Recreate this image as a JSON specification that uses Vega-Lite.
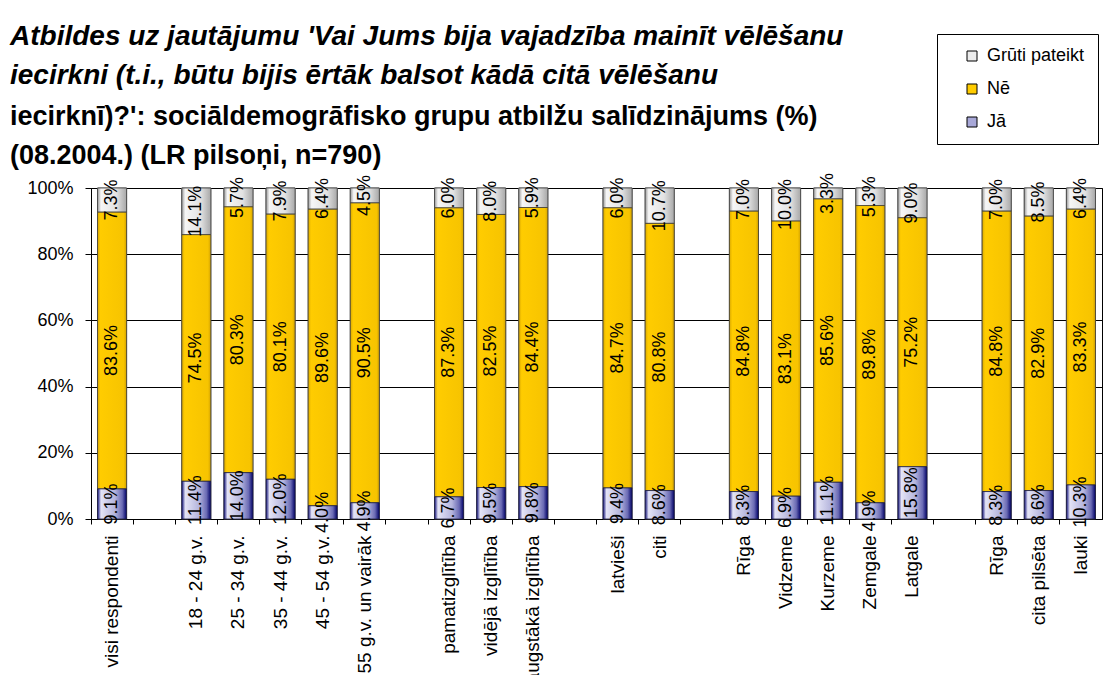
{
  "$schema": "https://vega.github.io/schema/vega-lite/v6.json",
  "width": 1011,
  "height": 331,
  "autosize": "none",
  "padding": {"left": 91, "top": 188, "right": 13, "bottom": 156},
  "background": "white",
  "title": {
    "text": ["Atbildes uz jautājumu 'Vai Jums bija vajadzība mainīt vēlēšanu", "iecirkni (t.i., būtu bijis ērtāk balsot kādā citā vēlēšanu"],
    "subtitle": ["iecirknī)?': sociāldemogrāfisko grupu atbilžu salīdzinājums (%)", "(08.2004.) (LR pilsoņi, n=790)"],
    "anchor": "start",
    "frame": "group",
    "dx": -81,
    "dy": 155,
    "offset": 20,
    "font": "Liberation Sans",
    "fontSize": 28,
    "fontWeight": "bold",
    "fontStyle": "italic",
    "color": "black",
    "lineHeight": 39,
    "subtitleFont": "Liberation Sans",
    "subtitleFontSize": 27,
    "subtitleFontWeight": "bold",
    "subtitleFontStyle": "normal",
    "subtitleColor": "black",
    "subtitleLineHeight": 39,
    "subtitlePadding": 14
  },
  "data": {
    "values": [
      {"grupa": "visi respondenti", "atbilde": "Jā", "vertiba": 9.1},
      {"grupa": "visi respondenti", "atbilde": "Nē", "vertiba": 83.6},
      {"grupa": "visi respondenti", "atbilde": "Grūti pateikt", "vertiba": 7.3},
      {"grupa": "18 - 24 g.v.", "atbilde": "Jā", "vertiba": 11.4},
      {"grupa": "18 - 24 g.v.", "atbilde": "Nē", "vertiba": 74.5},
      {"grupa": "18 - 24 g.v.", "atbilde": "Grūti pateikt", "vertiba": 14.1},
      {"grupa": "25 - 34 g.v.", "atbilde": "Jā", "vertiba": 14.0},
      {"grupa": "25 - 34 g.v.", "atbilde": "Nē", "vertiba": 80.3},
      {"grupa": "25 - 34 g.v.", "atbilde": "Grūti pateikt", "vertiba": 5.7},
      {"grupa": "35 - 44 g.v.", "atbilde": "Jā", "vertiba": 12.0},
      {"grupa": "35 - 44 g.v.", "atbilde": "Nē", "vertiba": 80.1},
      {"grupa": "35 - 44 g.v.", "atbilde": "Grūti pateikt", "vertiba": 7.9},
      {"grupa": "45 - 54 g.v.", "atbilde": "Jā", "vertiba": 4.0},
      {"grupa": "45 - 54 g.v.", "atbilde": "Nē", "vertiba": 89.6},
      {"grupa": "45 - 54 g.v.", "atbilde": "Grūti pateikt", "vertiba": 6.4},
      {"grupa": "55 g.v. un vairāk", "atbilde": "Jā", "vertiba": 4.9},
      {"grupa": "55 g.v. un vairāk", "atbilde": "Nē", "vertiba": 90.5},
      {"grupa": "55 g.v. un vairāk", "atbilde": "Grūti pateikt", "vertiba": 4.5},
      {"grupa": "pamatizglītība", "atbilde": "Jā", "vertiba": 6.7},
      {"grupa": "pamatizglītība", "atbilde": "Nē", "vertiba": 87.3},
      {"grupa": "pamatizglītība", "atbilde": "Grūti pateikt", "vertiba": 6.0},
      {"grupa": "vidējā izglītība", "atbilde": "Jā", "vertiba": 9.5},
      {"grupa": "vidējā izglītība", "atbilde": "Nē", "vertiba": 82.5},
      {"grupa": "vidējā izglītība", "atbilde": "Grūti pateikt", "vertiba": 8.0},
      {"grupa": "augstākā izglītība", "atbilde": "Jā", "vertiba": 9.8},
      {"grupa": "augstākā izglītība", "atbilde": "Nē", "vertiba": 84.4},
      {"grupa": "augstākā izglītība", "atbilde": "Grūti pateikt", "vertiba": 5.9},
      {"grupa": "latvieši", "atbilde": "Jā", "vertiba": 9.4},
      {"grupa": "latvieši", "atbilde": "Nē", "vertiba": 84.7},
      {"grupa": "latvieši", "atbilde": "Grūti pateikt", "vertiba": 6.0},
      {"grupa": "citi", "atbilde": "Jā", "vertiba": 8.6},
      {"grupa": "citi", "atbilde": "Nē", "vertiba": 80.8},
      {"grupa": "citi", "atbilde": "Grūti pateikt", "vertiba": 10.7},
      {"grupa": "Rīga", "atbilde": "Jā", "vertiba": 8.3},
      {"grupa": "Rīga", "atbilde": "Nē", "vertiba": 84.8},
      {"grupa": "Rīga", "atbilde": "Grūti pateikt", "vertiba": 7.0},
      {"grupa": "Vidzeme", "atbilde": "Jā", "vertiba": 6.9},
      {"grupa": "Vidzeme", "atbilde": "Nē", "vertiba": 83.1},
      {"grupa": "Vidzeme", "atbilde": "Grūti pateikt", "vertiba": 10.0},
      {"grupa": "Kurzeme", "atbilde": "Jā", "vertiba": 11.1},
      {"grupa": "Kurzeme", "atbilde": "Nē", "vertiba": 85.6},
      {"grupa": "Kurzeme", "atbilde": "Grūti pateikt", "vertiba": 3.3},
      {"grupa": "Zemgale", "atbilde": "Jā", "vertiba": 4.9},
      {"grupa": "Zemgale", "atbilde": "Nē", "vertiba": 89.8},
      {"grupa": "Zemgale", "atbilde": "Grūti pateikt", "vertiba": 5.3},
      {"grupa": "Latgale", "atbilde": "Jā", "vertiba": 15.8},
      {"grupa": "Latgale", "atbilde": "Nē", "vertiba": 75.2},
      {"grupa": "Latgale", "atbilde": "Grūti pateikt", "vertiba": 9.0},
      {"grupa": "Rīga#2", "atbilde": "Jā", "vertiba": 8.3},
      {"grupa": "Rīga#2", "atbilde": "Nē", "vertiba": 84.8},
      {"grupa": "Rīga#2", "atbilde": "Grūti pateikt", "vertiba": 7.0},
      {"grupa": "cita pilsēta", "atbilde": "Jā", "vertiba": 8.6},
      {"grupa": "cita pilsēta", "atbilde": "Nē", "vertiba": 82.9},
      {"grupa": "cita pilsēta", "atbilde": "Grūti pateikt", "vertiba": 8.5},
      {"grupa": "lauki", "atbilde": "Jā", "vertiba": 10.3},
      {"grupa": "lauki", "atbilde": "Nē", "vertiba": 83.3},
      {"grupa": "lauki", "atbilde": "Grūti pateikt", "vertiba": 6.4}
    ]
  },
  "transform": [
    {"calculate": "indexof(['Jā','Nē','Grūti pateikt'], datum.atbilde)", "as": "ord"},
    {"stack": "vertiba", "groupby": ["grupa"], "sort": [{"field": "ord", "order": "ascending"}], "as": ["y0", "y1"], "offset": "normalize"},
    {"calculate": "(datum.y0 + datum.y1) / 2", "as": "mid"},
    {"calculate": "format(datum.vertiba, '.1f') + '%'", "as": "lbl"}
  ],
  "layer": [
    {
      "mark": {"type": "bar", "width": {"band": 0.69}, "stroke": "#404040", "strokeWidth": 0.8},
      "encoding": {
        "x": {
          "field": "grupa", "type": "nominal", "sort": null,
          "scale": {
            "domain": ["visi respondenti", " ", "18 - 24 g.v.", "25 - 34 g.v.", "35 - 44 g.v.", "45 - 54 g.v.", "55 g.v. un vairāk", "  ", "pamatizglītība", "vidējā izglītība", "augstākā izglītība", "   ", "latvieši", "citi", "    ", "Rīga", "Vidzeme", "Kurzeme", "Zemgale", "Latgale", "     ", "Rīga#2", "cita pilsēta", "lauki"],
            "paddingInner": 0, "paddingOuter": 0
          },
          "axis": {
            "orient": "bottom", "title": null, "ticks": false, "tickSize": 0, "domain": true, "domainColor": "black",
            "labelAngle": -90, "labelFontSize": 19, "labelPadding": 16, "labelColor": "black", "labelLimit": 300,
            "labelExpr": "replace(datum.label, '#2', '')", "grid": false
          }
        },
        "y": {
          "field": "y0", "type": "quantitative", "scale": {"domain": [0, 1]},
          "axis": {"values": [0, 0.2, 0.4, 0.6, 0.8, 1], "format": ".0%", "title": null, "grid": true, "gridColor": "black", "gridOpacity": 1, "domainColor": "black", "tickColor": "black", "tickSize": 6, "labelFontSize": 18, "labelPadding": 12, "labelColor": "black"}
        },
        "y2": {"field": "y1"},
        "fill": {
          "field": "atbilde", "type": "nominal",
          "scale": {"domain": ["Grūti pateikt", "Nē", "Jā"], "range": ["#ececec", "#ffcc00", "#a8a8d8"]},
          "legend": {
            "title": null, "orient": "none", "legendX": 846, "legendY": -154,
            "padding": 13, "symbolOffset": 13, "strokeColor": "black", "fillColor": "white",
            "symbolType": "square", "symbolSize": 100, "symbolStrokeColor": "black", "symbolStrokeWidth": 1,
            "labelFontSize": 18, "labelOffset": 6, "rowPadding": 15, "labelColor": "black"
          }
        }
      }
    },
    {
      "transform": [{"filter": "datum.atbilde === 'Grūti pateikt'"}],
      "mark": {"type": "bar", "width": {"band": 0.69}, "stroke": "#404040", "strokeWidth": 0.8,
        "fill": {"gradient": "linear", "x1": 0, "y1": 0, "x2": 1, "y2": 0, "stops": [{"offset": 0, "color": "#9a9a9a"}, {"offset": 0.12, "color": "#f6f6f6"}, {"offset": 0.65, "color": "#e2e2e2"}, {"offset": 1, "color": "#a8a8a8"}]}},
      "encoding": {
        "x": {"field": "grupa", "type": "nominal", "sort": null, "axis": null},
        "y": {"field": "y0", "type": "quantitative",
          "axis": {"values": [0, 0.2, 0.4, 0.6, 0.8, 1], "format": ".0%", "title": null, "grid": true, "gridColor": "black", "gridOpacity": 1, "domainColor": "black", "tickColor": "black", "tickSize": 6, "labelFontSize": 18, "labelPadding": 12, "labelColor": "black"}},
        "y2": {"field": "y1"}
      }
    },
    {
      "transform": [{"filter": "datum.atbilde === 'Nē'"}],
      "mark": {"type": "bar", "width": {"band": 0.69}, "stroke": "#404040", "strokeWidth": 0.8,
        "fill": {"gradient": "linear", "x1": 0, "y1": 0, "x2": 1, "y2": 0, "stops": [{"offset": 0, "color": "#d9a800"}, {"offset": 0.1, "color": "#ffcc00"}, {"offset": 0.9, "color": "#f7c400"}, {"offset": 1, "color": "#d4a300"}]}},
      "encoding": {
        "x": {"field": "grupa", "type": "nominal", "sort": null, "axis": null},
        "y": {"field": "y0", "type": "quantitative",
          "axis": {"values": [0, 0.2, 0.4, 0.6, 0.8, 1], "format": ".0%", "title": null, "grid": true, "gridColor": "black", "gridOpacity": 1, "domainColor": "black", "tickColor": "black", "tickSize": 6, "labelFontSize": 18, "labelPadding": 12, "labelColor": "black"}},
        "y2": {"field": "y1"}
      }
    },
    {
      "transform": [{"filter": "datum.atbilde === 'Jā'"}],
      "mark": {"type": "bar", "width": {"band": 0.69}, "stroke": "#202040", "strokeWidth": 0.8,
        "fill": {"gradient": "linear", "x1": 0, "y1": 0, "x2": 1, "y2": 0, "stops": [{"offset": 0, "color": "#10107a"}, {"offset": 0.12, "color": "#e4e4f6"}, {"offset": 0.6, "color": "#b4b4dc"}, {"offset": 0.85, "color": "#6a6ab4"}, {"offset": 1, "color": "#000066"}]}},
      "encoding": {
        "x": {"field": "grupa", "type": "nominal", "sort": null, "axis": null},
        "y": {"field": "y0", "type": "quantitative",
          "axis": {"values": [0, 0.2, 0.4, 0.6, 0.8, 1], "format": ".0%", "title": null, "grid": true, "gridColor": "black", "gridOpacity": 1, "domainColor": "black", "tickColor": "black", "tickSize": 6, "labelFontSize": 18, "labelPadding": 12, "labelColor": "black"}},
        "y2": {"field": "y1"}
      }
    },
    {
      "mark": {"type": "text", "angle": 270, "fontSize": 18, "color": "black", "align": "center", "baseline": "middle"},
      "encoding": {
        "x": {
          "field": "grupa", "type": "nominal", "sort": null,
          "axis": {"orient": "bottom", "title": null, "labels": false, "domain": false, "grid": false, "ticks": true, "tickSize": 5, "tickColor": "black", "bandPosition": 0}
        },
        "y": {"field": "mid", "type": "quantitative",
          "axis": {"values": [0, 0.2, 0.4, 0.6, 0.8, 1], "format": ".0%", "title": null, "grid": true, "gridColor": "black", "gridOpacity": 1, "domainColor": "black", "tickColor": "black", "tickSize": 6, "labelFontSize": 18, "labelPadding": 12, "labelColor": "black"}},
        "text": {"field": "lbl"}
      }
    }
  ],
  "resolve": {"axis": {"x": "independent"}},
  "config": {
    "font": "Liberation Sans",
    "view": {"stroke": "black", "strokeWidth": 1},
    "axis": {"labelFont": "Liberation Sans"},
    "legend": {"labelFont": "Liberation Sans"}
  }
}
